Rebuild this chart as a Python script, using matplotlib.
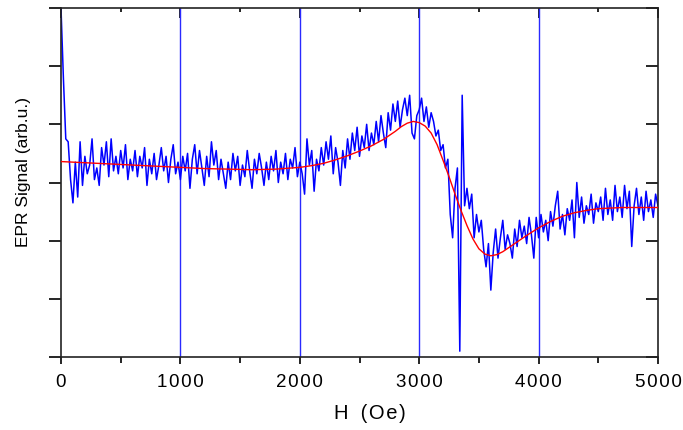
import numpy as np
import matplotlib
matplotlib.use("Agg")
import matplotlib.pyplot as plt
from matplotlib.ticker import MultipleLocator, NullFormatter

# ---- data -------------------------------------------------------------
field_step = 20  # Oe
signal = [
    # 0 - 980
    6.00, 4.80, 3.75, 3.70, 3.05, 2.65, 3.35, 2.75, 3.70, 2.95,
    3.45, 3.15, 3.30, 3.75, 3.05, 3.25, 2.95, 3.60, 3.30, 3.70,
    3.10, 3.75, 3.20, 3.45, 3.15, 3.55, 3.25, 3.65, 3.05, 3.40,
    3.20, 3.55, 3.10, 3.45, 3.25, 3.60, 2.95, 3.40, 3.15, 3.50,
    3.05, 3.30, 3.60, 3.20, 3.45, 3.00, 3.40, 3.65, 3.15, 3.35,
    # 1000 - 1980
    3.05, 3.45, 3.20, 3.50, 2.90, 3.40, 3.65, 3.15, 3.55, 3.25,
    2.95, 3.45, 3.10, 3.70, 3.30, 3.55, 3.05, 3.40, 3.15, 2.90,
    3.35, 3.05, 3.50, 3.20, 3.45, 2.95, 3.30, 3.10, 3.55, 3.20,
    2.90, 3.40, 3.15, 3.50, 3.25, 2.95, 3.35, 3.05, 3.45, 3.20,
    3.55, 3.00, 3.35, 3.15, 3.50, 3.05, 3.40, 3.25, 3.60, 3.10,
    # 2000 - 2980
    3.35, 3.15, 2.80, 3.75, 3.30, 3.55, 2.85, 3.40, 3.20, 3.60,
    3.30, 3.70, 3.40, 3.80, 3.15, 3.60, 3.35, 2.95, 3.55, 3.25,
    3.75, 3.40, 3.85, 3.55, 3.95, 3.45, 3.80, 3.60, 4.00, 3.55,
    3.85, 3.65, 4.05, 3.70, 4.15, 3.85, 3.60, 4.20, 3.90, 4.35,
    4.05, 4.40, 3.95, 4.25, 4.45, 4.15, 4.50, 3.85, 3.75, 4.15,
    # 3000 - 3980
    4.25, 4.45, 4.05, 4.30, 3.95, 4.20, 4.05, 3.80, 3.90, 3.55,
    3.65, 3.25, 3.40, 2.45, 2.05, 2.90, 3.25, 0.10, 4.50, 2.60,
    2.90, 2.55, 2.80, 2.05, 2.45, 2.15, 2.35, 1.85, 1.55, 1.95,
    1.15, 1.80, 2.20, 1.70, 2.05, 2.35, 1.85, 2.10, 1.95, 1.70,
    2.20, 1.90, 2.35, 2.05, 2.25, 1.95, 2.40, 2.10, 1.70, 2.40,
    # 4000 - 5000
    2.05, 2.45, 2.15, 2.35, 2.00, 2.50, 2.25, 2.60, 2.85, 2.20,
    2.45, 2.10, 2.55, 2.35, 2.70, 2.05, 3.00, 2.40, 2.75, 2.30,
    2.60, 2.45, 2.80, 2.30, 2.65, 2.50, 2.75, 2.35, 2.90, 2.45,
    2.70, 2.35, 2.95, 2.50, 2.75, 2.40, 2.95, 2.55, 2.85, 1.90,
    2.60, 2.90, 2.45, 2.75, 2.35, 2.85, 2.50, 2.70, 2.40, 2.80,
    2.60,
]
field = [i * field_step for i in range(len(signal))]

fit_field = [0, 200, 400, 600, 800, 1000, 1200, 1400, 1600, 1800,
             2000, 2100, 2200, 2300, 2400, 2500, 2600, 2700, 2800, 2850,
             2900, 2950, 3000, 3050, 3100, 3150, 3200, 3250, 3300, 3350,
             3400, 3450, 3500, 3550, 3600, 3650, 3700, 3800, 3900, 4000,
             4100, 4200, 4300, 4400, 4500, 4600, 4700, 4800, 4900, 5000]
fit_signal = [3.36, 3.34, 3.32, 3.30, 3.28, 3.26, 3.24, 3.23, 3.22, 3.23,
              3.26, 3.29, 3.33, 3.39, 3.46, 3.54, 3.63, 3.74, 3.88, 3.96,
              4.02, 4.05, 4.03, 3.97, 3.85, 3.65, 3.38, 3.10, 2.80, 2.52,
              2.26, 2.03, 1.86, 1.77, 1.74, 1.76, 1.81, 1.95, 2.09, 2.22,
              2.33, 2.42, 2.48, 2.52, 2.55, 2.56, 2.57, 2.57, 2.57, 2.57]

marker_fields = [1000, 2000, 3000, 4000]
x_ticks = [0, 1000, 2000, 3000, 4000, 5000]
x_tick_labels = ['0', '1000', '2000', '3000', '4000', '5000']
x_label = 'H (Oe)'
y_label = 'EPR Signal (arb.u.)'

HAIR = '\u200a'

def spaced(s):
    out = HAIR.join(s)
    return out.replace(' ', HAIR + ' ' + HAIR)

# ---- figure -----------------------------------------------------------
plt.rcParams['font.family'] = ['Liberation Sans', 'DejaVu Sans']
fig = plt.figure(figsize=(6.83, 4.30), dpi=100)
ax = fig.add_axes([61/683, 1-357/430, 597/683, 349/430])

for xv in marker_fields:
    ax.axvline(xv, color='#2a2aff', lw=1.0, zorder=1)

ax.plot(field, signal, color='#0000ff', lw=1.1, zorder=2)
ax.plot(fit_field, fit_signal, color='#ff0000', lw=1.0, zorder=3)

ax.set_xlim(0, 5000)
ax.set_ylim(0, 6)
ax.set_xticks(x_ticks)
ax.set_xticklabels([spaced(t) for t in x_tick_labels])
ax.xaxis.set_minor_locator(MultipleLocator(500))
ax.yaxis.set_major_locator(MultipleLocator(1))
ax.yaxis.set_major_formatter(NullFormatter())

ax.tick_params(axis='x', which='major', direction='out', length=5, width=1.2,
               labelsize=13.5, pad=7, colors='black')
ax.tick_params(axis='x', which='minor', direction='out', length=4, width=1.2)
ax.tick_params(axis='y', which='major', direction='out', length=9, width=1.2)

secx = ax.secondary_xaxis('top')
secx.set_xticks(x_ticks)
secx.xaxis.set_minor_locator(MultipleLocator(500))
secx.tick_params(which='major', direction='in', length=7, width=1.2, labeltop=False)
secx.tick_params(which='minor', direction='in', length=3, width=1.2)
secx.spines['top'].set_visible(False)
secy = ax.secondary_yaxis('right')
secy.yaxis.set_major_locator(MultipleLocator(1))
secy.tick_params(direction='in', length=9, width=1.2, labelright=False)
secy.spines['right'].set_visible(False)

for s in ax.spines.values():
    s.set_linewidth(1.2)
    s.set_color('#222222')

ax.set_xlabel(spaced(x_label), fontsize=14.5)
ax.xaxis.set_label_coords((370 - 61) / 597, (357 - 404) / 349)
ax.set_ylabel(y_label, fontsize=12.5)
ax.yaxis.set_label_coords((31.5 - 61) / 597, (357 - 172) / 349)

fig.savefig('out.png', dpi=100)
